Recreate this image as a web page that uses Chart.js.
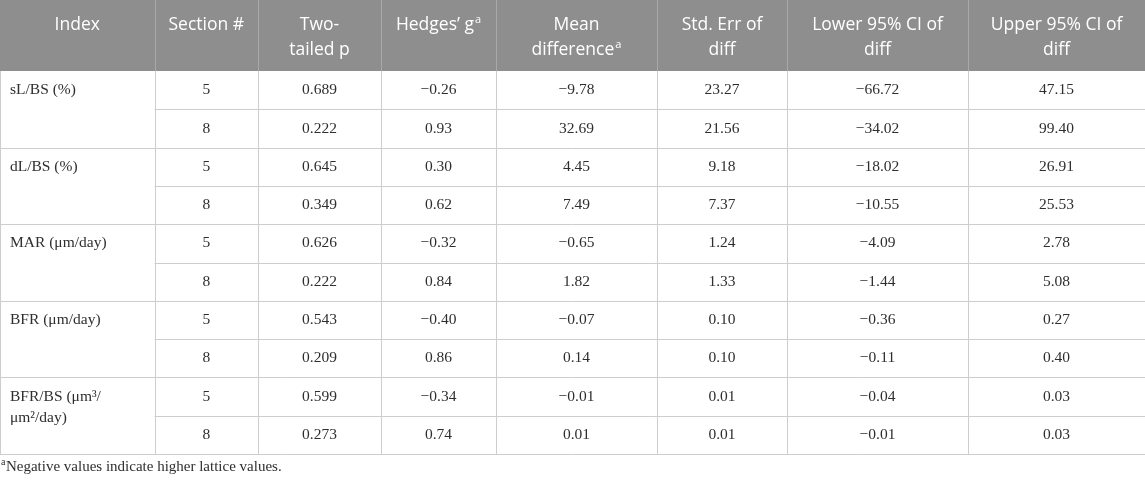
<!DOCTYPE html>
<html>
<head>
<meta charset="utf-8">
<script src="https://cdn.jsdelivr.net/npm/chart.js@4"></script>
<style>
  html, body { margin: 0; padding: 0; background: #ffffff; }
  #wrap { width: 1145px; height: 481px; }
</style>
</head>
<body>
<div id="wrap"><canvas id="c" width="1145" height="481"></canvas></div>
<script>
// ---------- data ----------
const headerLines = [["Index"], ["Section #"], ["Two-", "tailed p"], ["Hedges’ g"], ["Mean", "difference"], ["Std. Err of", "diff"], ["Lower 95% CI of", "diff"], ["Upper 95% CI of", "diff"]];
const headerNotes = ["", "", "", "a", "a", "", "", ""];
const indexLabels = [["sL/BS (%)"], ["dL/BS (%)"], ["MAR (μm/day)"], ["BFR (μm/day)"], ["BFR/BS (μm³/", "μm²/day)"]];
const sections = [5, 8];
const twoTailedP = [0.689, 0.222, 0.645, 0.349, 0.626, 0.222, 0.543, 0.209, 0.599, 0.273];
const hedgesG   = [-0.26, 0.93, 0.30, 0.62, -0.32, 0.84, -0.40, 0.86, -0.34, 0.74];
const meanDiff  = [-9.78, 32.69, 4.45, 7.49, -0.65, 1.82, -0.07, 0.14, -0.01, 0.01];
const stdErr    = [23.27, 21.56, 9.18, 7.37, 1.24, 1.33, 0.10, 0.10, 0.01, 0.01];
const lower95   = [-66.72, -34.02, -18.02, -10.55, -4.09, -1.44, -0.36, -0.11, -0.04, -0.01];
const upper95   = [47.15, 99.40, 26.91, 25.53, 2.78, 5.08, 0.27, 0.40, 0.03, 0.03];
const footnote  = "Negative values indicate higher lattice values.";
const footnoteMark = "a";

// ---------- layout (not data) ----------
const colEdges = [0, 154.5, 258, 381, 496, 657, 787, 968, 1145];
const headerH = 71, rowH = 38.3;
const numericCols = [
  { col: 2, vals: twoTailedP, dp: 3 },
  { col: 3, vals: hedgesG, dp: 2 },
  { col: 4, vals: meanDiff, dp: 2 },
  { col: 5, vals: stdErr, dp: 2 },
  { col: 6, vals: lower95, dp: 2 },
  { col: 7, vals: upper95, dp: 2 }
];
const nRows = twoTailedP.length;
const fmt = (v, dp) => (v < 0 ? "\u2212" : "") + Math.abs(v).toFixed(dp);
const rowCenter = r => headerH + rowH * (r + 0.5);
const colCenter = c => (colEdges[c] + colEdges[c + 1]) / 2;

// one invisible point per cell, labels drawn at those scale positions
const datasets = [];
datasets.push({ label: "section", data: Array.from({ length: nRows }, (_, r) => ({ x: colCenter(1), y: rowCenter(r), t: String(sections[r % 2]) })) });
numericCols.forEach(nc => {
  datasets.push({ label: "c" + nc.col, data: nc.vals.map((v, r) => ({ x: colCenter(nc.col), y: rowCenter(r), t: fmt(v, nc.dp) })) });
});

const BODY_FONT = "15.5px 'Liberation Serif', 'DejaVu Serif', serif";
const HEAD_FONT = "17.5px 'Open Sans', 'Noto Sans', sans-serif";
const HEAD_SUP = "11px 'Open Sans', 'Noto Sans', sans-serif";

const tablePlugin = {
  id: "table",
  beforeDatasetsDraw(chart) {
    const { ctx, scales: { x, y } } = chart;
    const X = v => x.getPixelForValue(v), Y = v => y.getPixelForValue(v);
    const top = Y(0), hb = Y(headerH), bottom = Y(headerH + rowH * nRows);
    ctx.save();
    // header background
    ctx.fillStyle = "#8e8e8e";
    ctx.fillRect(X(0), top, X(1145) - X(0), hb - top);
    // header separators
    ctx.strokeStyle = "#a9a9a9"; ctx.lineWidth = 1;
    for (let i = 1; i < colEdges.length - 1; i++) {
      const px = Math.round(X(colEdges[i])) + 0.5;
      ctx.beginPath(); ctx.moveTo(px, top); ctx.lineTo(px, hb); ctx.stroke();
    }
    // body grid
    ctx.strokeStyle = "#cdcdcd";
    for (let i = 0; i < colEdges.length - 1; i++) {
      const px = Math.round(X(colEdges[i])) + 0.5;
      ctx.beginPath(); ctx.moveTo(px, hb); ctx.lineTo(px, bottom); ctx.stroke();
    }
    for (let r = 1; r <= nRows; r++) {
      const py = Math.round(Y(headerH + rowH * r)) + 0.5;
      const x0 = (r % 2 === 0) ? X(0) : X(colEdges[1]);
      ctx.beginPath(); ctx.moveTo(x0, py); ctx.lineTo(X(1145), py); ctx.stroke();
    }
    // header text
    ctx.fillStyle = "#ffffff"; ctx.textBaseline = "middle"; ctx.textAlign = "left";
    headerLines.forEach((lines, c) => {
      lines.forEach((ln, li) => {
        const isLast = li === lines.length - 1;
        const note = isLast ? headerNotes[c] : "";
        ctx.font = HEAD_FONT; const w1 = ctx.measureText(ln).width;
        ctx.font = HEAD_SUP; const w2 = note ? ctx.measureText(note).width + 1 : 0;
        const cx = X(colCenter(c)), cy = Y(25 + li * 25);
        const sx = cx - (w1 + w2) / 2;
        ctx.font = HEAD_FONT; ctx.fillText(ln, sx, cy);
        if (note) { ctx.font = HEAD_SUP; ctx.fillText(note, sx + w1 + 1, cy - 5); }
      });
    });
    // index labels
    ctx.fillStyle = "#2e2e2e"; ctx.font = BODY_FONT; ctx.textAlign = "left";
    indexLabels.forEach((lines, g) => {
      lines.forEach((ln, li) => {
        ctx.fillText(ln, X(10), Y(rowCenter(g * 2) + li * 21));
      });
    });
    // footnote
    ctx.font = "10px 'Liberation Serif', serif";
    ctx.fillText(footnoteMark, X(1), Y(462));
    const mw = ctx.measureText(footnoteMark).width;
    ctx.font = "15px 'Liberation Serif', 'DejaVu Serif', serif";
    ctx.fillText(footnote, X(1) + mw + 0.5, Y(467));
    ctx.restore();
  },
  afterDatasetsDraw(chart) {
    const { ctx } = chart;
    ctx.save();
    ctx.fillStyle = "#2e2e2e"; ctx.font = BODY_FONT;
    ctx.textAlign = "center"; ctx.textBaseline = "middle";
    chart.data.datasets.forEach((ds, i) => {
      const meta = chart.getDatasetMeta(i);
      meta.data.forEach((pt, j) => { ctx.fillText(ds.data[j].t, pt.x, pt.y); });
    });
    ctx.restore();
  }
};

new Chart(document.getElementById("c"), {
  type: "scatter",
  data: { datasets },
  options: {
    responsive: false,
    animation: false,
    devicePixelRatio: 1,
    layout: { padding: 0 },
    elements: { point: { radius: 0, hoverRadius: 0 } },
    plugins: { legend: { display: false }, tooltip: { enabled: false } },
    events: [],
    scales: {
      x: { type: "linear", display: false, min: 0, max: 1145 },
      y: { type: "linear", display: false, min: 0, max: 481, reverse: true }
    }
  },
  plugins: [tablePlugin]
});
</script>
</body>
</html>
